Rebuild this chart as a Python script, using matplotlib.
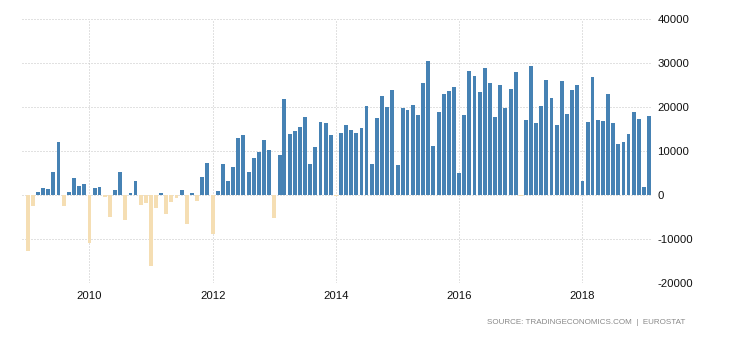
import numpy as np
import pandas as pd
import matplotlib
matplotlib.use("Agg")
import matplotlib.pyplot as plt
import matplotlib.dates as mdates
import matplotlib.ticker as ticker

# monthly values
y2009 = [-12800, -2600, 760, 1670, 1440, 5300, 12100, -2400, 760, 3940, 2120, 2580]
y2010 = [-10800, 1670, 1900, -380, -4900, 1200, 5300, -5600, 530, 3260, -2200, -1740]
y2011 = [-16200, -3000, 530, -4400, -1670, -600, 1200, -6500, 530, -1440, 4170, 7350]
y2012 = [-8800, 1000, 7120, 3260, 6440, 13030, 13700, 5300, 8480, 9850, 12580, 10300]
y2013 = [-5150, 9170, 21890, 13940, 14620, 15530, 17800, 7120, 10980, 16670, 16440, 13710]
y2014 = [-300, 14170, 15980, 14850, 14170, 15300, 20300, 7120, 17580, 22580, 20080, 23940]
y2015 = [6890, 19850, 19390, 20530, 18260, 25530, 30530, 11210, 18940, 23030, 23710, 24620]
y2016 = [5080, 18260, 28260, 27120, 23480, 28940, 25530, 17800, 25080, 19850, 24170, 28030]
y2017 = [-150, 17120, 29390, 16440, 20300, 26210, 22120, 15980, 25980, 18480, 23940, 25080]
y2018 = [3260, 16670, 26890, 17120, 16890, 23030, 16440, 11670, 12120, 13940, 18940, 17350]
y2019 = [1890, 18030]

values = np.array(y2009 + y2010 + y2011 + y2012 + y2013 + y2014 + y2015
                  + y2016 + y2017 + y2018 + y2019)
dates = pd.date_range("2009-01-01", periods=len(values), freq="MS")

year_ticks = pd.to_datetime(["2010-01-01", "2012-01-01", "2014-01-01",
                             "2016-01-01", "2018-01-01"])
y_ticks = [-20000, -10000, 0, 10000, 20000, 30000, 40000]

plt.rcParams["font.family"] = ["Liberation Sans", "DejaVu Sans"]

fig = plt.figure(figsize=(7.3, 3.4), dpi=100)
ax = fig.add_axes([22 / 730, 1 - 283 / 340, 630 / 730, 264 / 340])

colors = ["#4682B4" if v >= 0 else "#F5DEB3" for v in values]
ax.bar(dates, values, width=23, color=colors, zorder=2)

ax.set_ylim(-20000, 40000)
ax.set_xlim(pd.Timestamp("2008-11-27"), pd.Timestamp("2019-02-17"))

ax.set_yticks(y_ticks)
ax.yaxis.set_major_formatter(ticker.FuncFormatter(lambda v, p: f"{int(v)}"))
ax.yaxis.tick_right()
ax.set_xticks(year_ticks)
ax.xaxis.set_major_formatter(mdates.DateFormatter("%Y"))

ax.tick_params(axis="y", length=0, pad=4, labelsize=8.2, labelcolor="#111111")
ax.tick_params(axis="x", length=0, pad=6, labelsize=8.2, labelcolor="#111111")

# dotted grid
ax.grid(True, linestyle=(0, (1, 2)), color="#c4c4c4", linewidth=0.72, zorder=0)
ax.set_axisbelow(True)
for s in ax.spines.values():
    s.set_visible(False)

fig.text(685 / 730, 1 - 323 / 340, "SOURCE: TRADINGECONOMICS.COM  |  EUROSTAT",
         ha="right", va="center", fontsize=5.8, color="#888888")

fig.savefig("out.png", dpi=100)
